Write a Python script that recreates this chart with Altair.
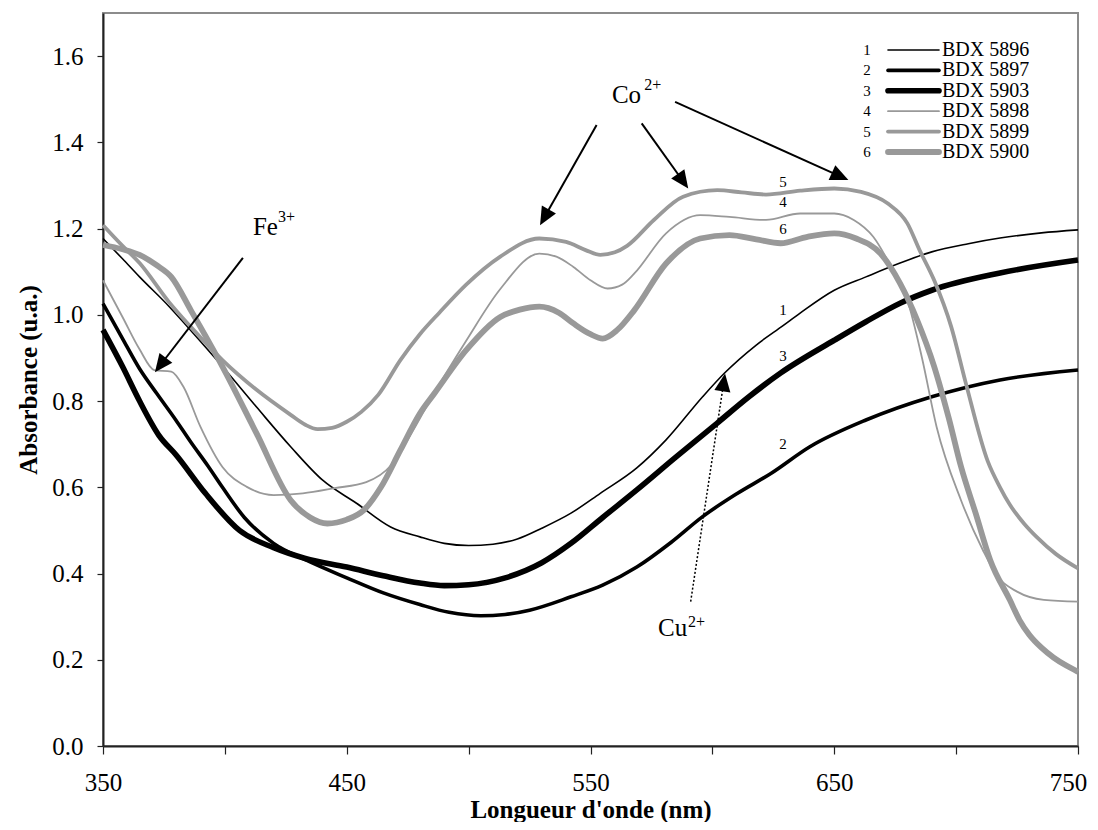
import math
import altair as alt
import pandas as pd

# ---------------- data ----------------
series_names = ["BDX 5896", "BDX 5897", "BDX 5903", "BDX 5898", "BDX 5899", "BDX 5900"]
series_nums = ["1", "2", "3", "4", "5", "6"]

wl_5896 = [350, 358, 365, 377, 385, 399, 413, 427, 440, 454, 468, 480, 490, 500, 510, 520, 530,
           542, 554, 569, 581, 596, 605, 618, 629, 636, 650, 663, 677, 690, 705, 718, 735, 750]
abs_5896 = [1.177, 1.13, 1.088, 1.02, 0.97, 0.88, 0.786, 0.694, 0.617, 0.563, 0.508, 0.485, 0.47,
            0.465, 0.468, 0.48, 0.505, 0.54, 0.586, 0.645, 0.71, 0.81, 0.865, 0.93, 0.975, 1.004,
            1.057, 1.088, 1.12, 1.146, 1.165, 1.178, 1.19, 1.197]

wl_5897 = [350, 358, 365, 372, 380, 386, 393, 399, 408, 420, 433, 450, 465, 480, 492, 505, 515,
           525, 542, 555, 569, 583, 596, 610, 624, 640, 663, 690, 718, 750]
abs_5897 = [1.026, 0.945, 0.875, 0.818, 0.755, 0.705, 0.65, 0.60, 0.53, 0.47, 0.432, 0.39, 0.355,
            0.328, 0.31, 0.302, 0.305, 0.315, 0.346, 0.373, 0.415, 0.472, 0.532, 0.585, 0.632,
            0.694, 0.756, 0.81, 0.849, 0.872]

wl_5903 = [350, 358, 365, 373, 380, 392, 406, 420, 433, 450, 465, 480, 490, 500, 515, 530, 542,
           555, 569, 585, 602, 615, 628, 650, 663, 677, 690, 718, 750]
abs_5903 = [0.965, 0.88, 0.80, 0.72, 0.675, 0.586, 0.50, 0.46, 0.435, 0.415, 0.395, 0.378, 0.372,
            0.374, 0.39, 0.425, 0.47, 0.53, 0.594, 0.67, 0.749, 0.81, 0.865, 0.941, 0.984, 1.027,
            1.057, 1.097, 1.127]

wl_5898 = [350, 358, 365, 371, 378, 383, 390, 399, 409, 420, 432, 445, 458, 468, 476, 485, 499,
           513, 529, 536, 543, 550, 557, 563, 568, 581, 595, 607, 622, 636, 650, 658, 666, 674,
           680, 686, 692, 702, 711, 717, 725, 736, 750]
abs_5898 = [1.08, 0.995, 0.92, 0.872, 0.868, 0.833, 0.74, 0.647, 0.601, 0.582, 0.586, 0.598,
            0.612, 0.65, 0.72, 0.81, 0.94, 1.06, 1.142, 1.135, 1.111, 1.08, 1.061, 1.07, 1.096,
            1.189, 1.231, 1.227, 1.22, 1.235, 1.235, 1.22, 1.181, 1.104, 1.034, 0.90, 0.74, 0.57,
            0.454, 0.393, 0.358, 0.339, 0.335]

wl_5899 = [350, 358, 365, 377, 386, 399, 413, 427, 433, 438, 444, 450, 456, 463, 472, 480, 488,
           499, 513, 529, 540, 548, 554, 560, 565, 576, 588, 602, 612, 622, 636, 650, 661, 672,
           680, 685, 691, 698, 704, 713, 718, 722, 728, 733, 741, 750]
abs_5899 = [1.208, 1.16, 1.12, 1.03, 0.972, 0.895, 0.826, 0.768, 0.745, 0.735, 0.738, 0.752, 0.775,
            0.815, 0.895, 0.955, 1.005, 1.07, 1.135, 1.177, 1.169, 1.15, 1.139, 1.145, 1.16, 1.22,
            1.274, 1.289, 1.284, 1.279, 1.288, 1.293, 1.285, 1.258, 1.212, 1.15, 1.08, 0.972,
            0.841, 0.66, 0.60, 0.56, 0.515, 0.485, 0.445, 0.412]

wl_5900 = [350, 358, 365, 372, 378, 386, 399, 413, 427, 435, 442, 450, 457, 464, 472, 480, 486,
           499, 513, 521, 529, 537, 543, 550, 555, 561, 568, 581, 595, 607, 618, 628, 639, 650,
           659, 669, 677, 684, 691, 697, 702, 708, 714, 722, 726, 730, 735, 740, 745, 750]
abs_5900 = [1.162, 1.152, 1.139, 1.115, 1.088, 1.011, 0.88, 0.725, 0.57, 0.53, 0.516, 0.525, 0.547,
            0.6, 0.686, 0.771, 0.818, 0.918, 0.995, 1.012, 1.019, 1.005, 0.98, 0.955, 0.945, 0.965,
            1.011, 1.119, 1.177, 1.185, 1.175, 1.166, 1.181, 1.189, 1.177, 1.142, 1.073, 0.988,
            0.88, 0.76, 0.648, 0.54, 0.431, 0.339, 0.292, 0.258, 0.228, 0.205, 0.187, 0.172]

# curve number labels placed beside the curves
curve_label_wl = [629, 629, 629, 629, 629, 629]
curve_label_abs = [1.011, 0.70, 0.904, 1.261, 1.309, 1.20]

# ion annotations
ion_text = ["Fe", "Co", "Cu"]
ion_wl = [411.5, 558.8, 577.7]
ion_abs = [1.185, 1.491, 0.255]
sup_text = ["3+", "2+", "2+"]
sup_wl = [421.8, 572.0, 590.0]
sup_abs = [1.215, 1.521, 0.276]

# solid arrows (Fe, Co x3): start -> tip
arrow_wl0 = [407.4, 552.5, 571.0, 584.7]
arrow_abs0 = [1.132, 1.44, 1.444, 1.494]
arrow_wl1 = [371.3, 529.3, 590.1, 655.8]
arrow_abs1 = [0.867, 1.208, 1.293, 1.3125]
# dotted arrow (Cu)
cu_wl0, cu_abs0, cu_wl1, cu_abs1 = [591.1], [0.335], [605.2], [0.864]

# ---------------- styling ----------------
series_colors = ["#000000", "#000000", "#000000", "#999999", "#999999", "#999999"]
series_widths = [1.6, 3.6, 5.6, 1.8, 3.8, 5.8]
FONT = "Liberation Serif"
W, H = 975, 733
X_MIN, X_MAX, Y_MIN, Y_MAX = 350, 750, 0.0, 1.7
PXX = W / (X_MAX - X_MIN)
PXY = H / (Y_MAX - Y_MIN)

x_enc = alt.X("wl:Q", scale=alt.Scale(domain=[X_MIN, X_MAX], nice=False, zero=False),
              axis=alt.Axis(values=list(range(350, 751, 50)),
                            labelExpr="datum.value % 100 == 50 ? datum.label : ''",
                            labelOffset={"condition": {"test": "datum.value == 750", "value": -10},
                                         "value": 0},
                            title="Longueur d'onde (nm)", grid=False, tickSize=8,
                            labelFlush=False, labelPadding=16, titlePadding=2))
y_enc = alt.Y("A:Q", scale=alt.Scale(domain=[Y_MIN, Y_MAX], nice=False),
              axis=alt.Axis(values=[round(0.2 * i, 1) for i in range(9)], format=".1f",
                            title="Absorbance (u.a.)", grid=False, tickSize=6,
                            labelFlush=False, labelPadding=14, titlePadding=10))

all_wl = [wl_5896, wl_5897, wl_5903, wl_5898, wl_5899, wl_5900]
all_abs = [abs_5896, abs_5897, abs_5903, abs_5898, abs_5899, abs_5900]

layers = []
for name, wls, vals, col, w in zip(series_names, all_wl, all_abs, series_colors, series_widths):
    d = pd.DataFrame({"wl": wls, "A": vals, "series": name})
    layers.append(
        alt.Chart(d).mark_line(color=col, strokeWidth=w, interpolate="monotone",
                               strokeJoin="round").encode(x=x_enc, y=y_enc)
    )

# curve number labels
lab_df = pd.DataFrame({"wl": curve_label_wl, "A": curve_label_abs, "num": series_nums})
layers.append(alt.Chart(lab_df).mark_text(font=FONT, fontSize=15, color="black",
                                          baseline="middle").encode(x="wl:Q", y="A:Q", text="num:N"))

# ion labels with superscripts
ion_df = pd.DataFrame({"wl": ion_wl, "A": ion_abs, "t": ion_text})
sup_df = pd.DataFrame({"wl": sup_wl, "A": sup_abs, "t": sup_text})
layers.append(alt.Chart(ion_df).mark_text(font=FONT, fontSize=25, color="black", align="left",
                                          baseline="alphabetic").encode(x="wl:Q", y="A:Q", text="t:N"))
layers.append(alt.Chart(sup_df).mark_text(font=FONT, fontSize=16, color="black", align="left",
                                          baseline="alphabetic").encode(x="wl:Q", y="A:Q", text="t:N"))


def arrow_frame(wl0, a0, wl1, a1, head):
    rows = []
    for x0, y0, x1, y1 in zip(wl0, a0, wl1, a1):
        dx = (x1 - x0) * PXX
        dy = -(y1 - y0) * PXY
        L = math.hypot(dx, dy)
        ux, uy = dx / L, dy / L
        ang = math.degrees(math.atan2(ux, -uy)) % 360
        bx = x1 - head * 0.8 * ux / PXX
        by = y1 + head * 0.8 * uy / PXY
        rows.append({"x0": x0, "y0": y0, "xb": bx, "yb": by, "x1": x1, "y1": y1, "ang": ang})
    return pd.DataFrame(rows)


HEAD_PATH = "M0,0L0.45,1L-0.45,1Z"
arr_df = arrow_frame(arrow_wl0, arrow_abs0, arrow_wl1, arrow_abs1, 18)
layers.append(alt.Chart(arr_df).mark_rule(color="black", strokeWidth=2).encode(
    x="x0:Q", y="y0:Q", x2="xb:Q", y2="yb:Q"))
layers.append(alt.Chart(arr_df).mark_point(shape=HEAD_PATH, filled=True, color="black", opacity=1,
                                           size=(2 * 18) ** 2, strokeWidth=0).encode(
    x="x1:Q", y="y1:Q", angle=alt.Angle("ang:Q", scale=None)))

cu_df = arrow_frame(cu_wl0, cu_abs0, cu_wl1, cu_abs1, 18)
layers.append(alt.Chart(cu_df).mark_rule(color="black", strokeWidth=1.5, strokeDash=[2, 2]).encode(
    x="x0:Q", y="y0:Q", x2="xb:Q", y2="yb:Q"))
layers.append(alt.Chart(cu_df).mark_point(shape=HEAD_PATH, filled=True, color="black", opacity=1,
                                          size=(2 * 18) ** 2, strokeWidth=0).encode(
    x="x1:Q", y="y1:Q", angle=alt.Angle("ang:Q", scale=None)))

main = alt.layer(*layers)

# ---------------- custom legend (numbers, line samples, labels) ----------------
leg_df = pd.DataFrame({"series": series_names, "num": series_nums, "row": list(range(6))})
leg_y = alt.Y("row:O", scale=alt.Scale(type="point", range=[37, 139], padding=0), axis=None)
leg_color = alt.Color("series:N", scale=alt.Scale(type="ordinal", domain=series_names,
                                                  range=series_colors), legend=None)
leg_width = alt.StrokeWidth("series:N", scale=alt.Scale(type="ordinal", domain=series_names,
                                                        range=series_widths), legend=None)
leg_rule = alt.Chart(leg_df).mark_rule(strokeCap="round").encode(
    x=alt.value(785), x2=alt.value(836), y=leg_y, color=leg_color, strokeWidth=leg_width)
leg_num = alt.Chart(leg_df).mark_text(font=FONT, fontSize=15, color="black", baseline="middle").encode(
    x=alt.value(764), y=leg_y, text="num:N")
leg_txt = alt.Chart(leg_df).mark_text(font=FONT, fontSize=20, color="black", align="left",
                                      baseline="middle").encode(x=alt.value(839), y=leg_y, text="series:N")
legend = alt.layer(leg_rule, leg_num, leg_txt)

chart = alt.layer(main, legend).resolve_scale(
    y="independent", color="independent", strokeWidth="independent"
).properties(
    width=W, height=H,
    autosize=alt.AutoSizeParams(type="none"),
    padding={"left": 95, "top": 5, "right": 12, "bottom": 76},
    background="white",
).configure_view(
    stroke="#8c8c8c", strokeWidth=2
).configure_axis(
    labelFont=FONT, labelFontSize=25, labelColor="black",
    titleFont=FONT, titleFontSize=25, titleFontWeight="bold", titleColor="black",
    domainColor="#222222", domainWidth=2, tickColor="#222222", tickWidth=1.2,
)

chart.save("out.html", embed_options={"renderer": "svg", "actions": False})
